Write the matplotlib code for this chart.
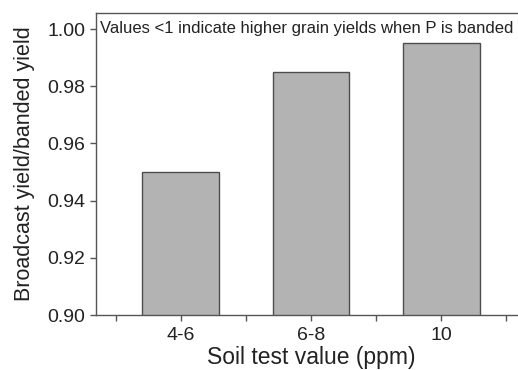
import matplotlib.pyplot as plt
import numpy as np

plt.rcParams['font.family'] = ['Liberation Sans', 'DejaVu Sans']

# Data
categories = ['4-6', '6-8', '10']
ratios = [0.950, 0.985, 0.995]
y_ticks = [0.90, 0.92, 0.94, 0.96, 0.98, 1.00]
note = 'Values <1 indicate higher grain yields when P is banded'

fig = plt.figure(figsize=(5.18, 3.70), dpi=100)
ax = fig.add_axes([96 / 518, 55 / 370, 430 / 518, 302 / 370])

x = np.arange(len(categories))
ax.bar(x, ratios, width=0.59, color='#b3b3b3', edgecolor='#4d4d4d', linewidth=1.0)

ax.set_xlim(-0.65, 2.65)
ax.set_ylim(0.90, 1.0056)
ax.set_yticks(y_ticks)
ax.set_yticklabels([f'{v:.2f}' for v in y_ticks], fontsize=14, color='#222222')
ax.set_xticks(x)
ax.set_xticklabels(categories, fontsize=14, color='#222222')
ax.set_xticks(np.arange(-0.5, 3.0, 1.0), minor=True)
ax.tick_params(axis='both', which='both', direction='out', length=4, width=1, color='#555555')
ax.tick_params(axis='x', which='major', pad=5)

for side in ['left', 'top', 'bottom']:
    ax.spines[side].set_color('#555555')
    ax.spines[side].set_linewidth(1.0)
ax.spines['right'].set_visible(False)

ax.set_xlabel('Soil test value (ppm)', fontsize=16.5, color='#222222', labelpad=1)
ax.set_ylabel('Broadcast yield/banded yield', fontsize=15.5, color='#222222', labelpad=9)

fig.text(100 / 518, 1 - 28 / 370, note, fontsize=12, color='#222222', va='center', ha='left')

fig.savefig('out.png', dpi=100)
